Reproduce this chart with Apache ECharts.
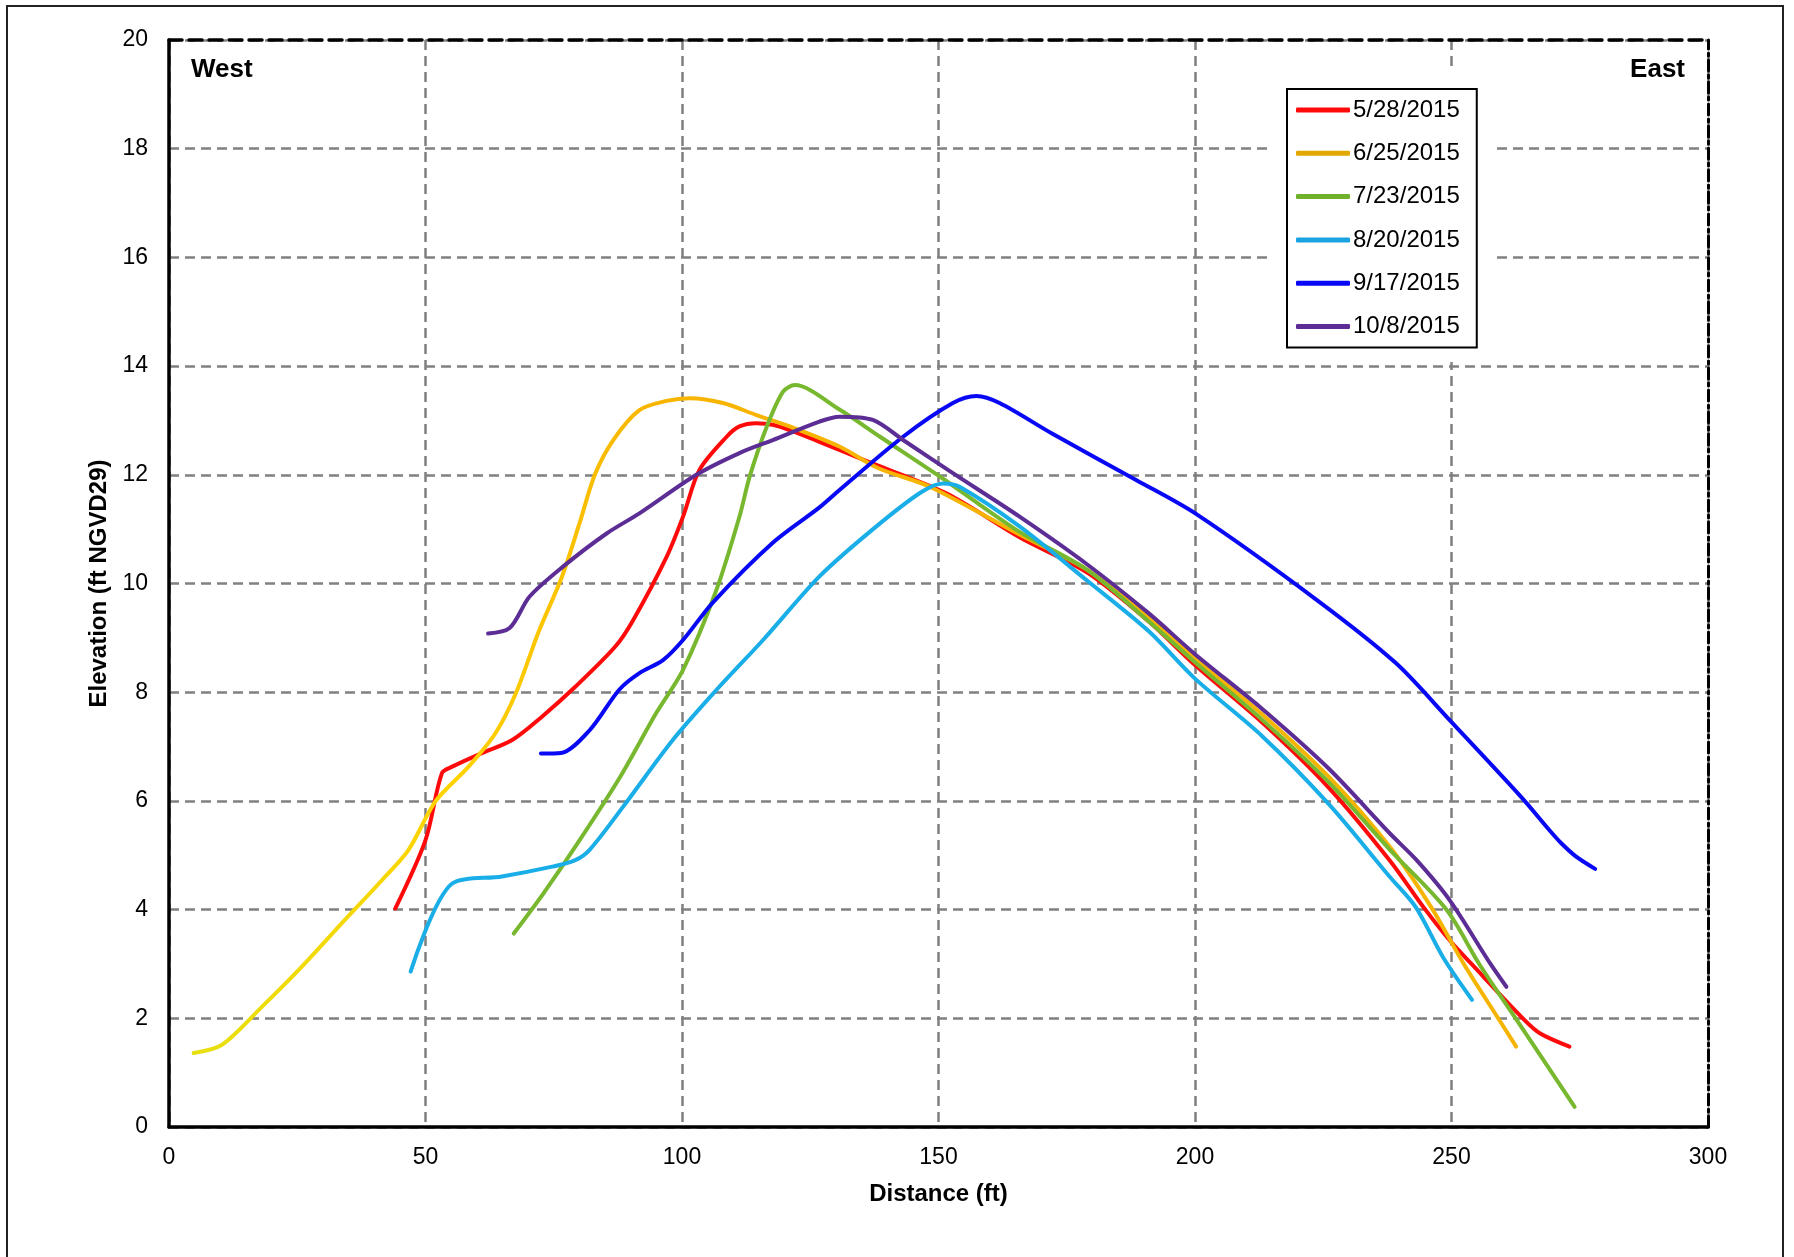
<!DOCTYPE html>
<html>
<head>
<meta charset="utf-8">
<script src="https://cdn.jsdelivr.net/npm/echarts@6/dist/echarts.min.js"></script>
<style>
html,body{margin:0;padding:0;background:#fff;}
#chart{width:1794px;height:1257px;}
</style>
</head>
<body>
<div id="chart"></div>
<script>
// ---- data ----
const seriesNames = ['5/28/2015','6/25/2015','7/23/2015','8/20/2015','9/17/2015','10/8/2015'];
const xTicks = [0, 50, 100, 150, 200, 250, 300];
const yTicks = [0, 2, 4, 6, 8, 10, 12, 14, 16, 18, 20];

const distRed = [44.1, 50.0, 53.2, 55.2, 61.0, 66.9, 72.7, 79.2, 87.0, 90.5, 97.0, 100.2, 103.4, 108.7, 111.2, 114.5, 117.7, 121.0, 127.5, 136, 151.5, 165.8, 179, 191, 200, 213, 226, 238, 244.5, 249.6, 253.9, 263.9, 267.3, 273.0];
const elevRed = [4.02, 5.28, 6.51, 6.63, 6.88, 7.12, 7.55, 8.10, 8.84, 9.33, 10.49, 11.23, 12.09, 12.70, 12.89, 12.95, 12.92, 12.82, 12.58, 12.25, 11.66, 10.85, 10.2, 9.3, 8.5, 7.45, 6.25, 4.9, 4.05, 3.44, 3.0, 2.0, 1.72, 1.48];

const distYellow = [4.8, 10.3, 18.1, 25.9, 33.7, 41.5, 46.7, 52.0, 58.4, 63.6, 67.7, 72, 76.5, 80, 83, 86.6, 91.7, 97, 101.5, 108.0, 114.5, 121.0, 130.7, 138.3, 148.3, 165.8, 179, 191, 200, 213, 226, 238, 246, 252.4, 259.1, 262.6];
const elevYellow = [1.36, 1.51, 2.21, 2.95, 3.75, 4.54, 5.10, 6.0, 6.63, 7.24, 8.0, 9.1, 10.1, 11.1, 12.0, 12.64, 13.19, 13.36, 13.41, 13.32, 13.10, 12.89, 12.52, 12.12, 11.78, 10.9, 10.25, 9.38, 8.62, 7.6, 6.45, 5.15, 4.05, 3.0, 2.0, 1.48];

const distGreen = [67.2, 73, 79.5, 88, 95.0, 100.2, 106.7, 111.2, 113.2, 116.5, 119.7, 122.0, 130.7, 138.6, 151.3, 165.8, 179, 191, 200, 213, 226, 238, 249.0, 255.4, 262.5, 274];
const elevGreen = [3.56, 4.3, 5.2, 6.45, 7.62, 8.41, 9.88, 11.23, 11.97, 12.88, 13.53, 13.65, 13.2, 12.70, 11.90, 10.95, 10.25, 9.3, 8.55, 7.5, 6.35, 5.1, 4.0, 3.0, 2.0, 0.37];

const distCyan = [47.1, 55.2, 64.9, 74.7, 79.2, 82.0, 88.5, 98.2, 106.7, 115.8, 126.8, 136.6, 146.3, 150.9, 154.1, 165.8, 179, 191, 200, 213, 226, 238, 243, 248.5, 254.0];
const elevCyan = [2.86, 4.48, 4.61, 4.79, 4.91, 5.10, 5.89, 7.12, 8.04, 8.96, 10.13, 10.95, 11.66, 11.84, 11.78, 11.05, 10.05, 9.12, 8.25, 7.2, 5.95, 4.6, 4.05, 3.1, 2.34];

const distBlue = [72.5, 76.4, 82.0, 87.8, 91.7, 96.3, 100.2, 106.0, 117.7, 126.8, 130.7, 143.1, 152.8, 157.4, 161.9, 172.3, 188.6, 200.2, 223.7, 239.1, 249.6, 263.6, 269.1, 271.3, 274.1, 278];
const elevBlue = [6.87, 6.88, 7.30, 8.05, 8.35, 8.59, 8.96, 9.65, 10.75, 11.4, 11.72, 12.70, 13.32, 13.45, 13.32, 12.75, 11.90, 11.28, 9.70, 8.54, 7.49, 6.07, 5.46, 5.23, 4.99, 4.75];

const distPurple = [62.2, 66.4, 70.3, 76.8, 85.3, 91.7, 102.8, 111.2, 117.7, 126.8, 130.7, 137.2, 143.1, 152.8, 165.8, 179, 191, 200, 213, 226, 238, 243.2, 249.6, 257.6, 260.7];
const elevPurple = [9.08, 9.18, 9.76, 10.31, 10.92, 11.29, 12.0, 12.40, 12.64, 12.98, 13.07, 13.01, 12.64, 12.03, 11.23, 10.35, 9.45, 8.7, 7.7, 6.6, 5.4, 4.91, 4.18, 3.0, 2.58];

const dists = [distRed, distYellow, distGreen, distCyan, distBlue, distPurple];
const elevs = [elevRed, elevYellow, elevGreen, elevCyan, elevBlue, elevPurple];

// ---- styles ----
const yellowGrad = new echarts.graphic.LinearGradient(0, 0, 1, 0, [
  {offset: 0, color: '#e6e010'},
  {offset: 0.2, color: '#ffd200'},
  {offset: 0.35, color: '#f7b400'},
  {offset: 1, color: '#f5b400'}
]);
const lineColors = ['#ff0a0a', yellowGrad, '#77b82f', '#19aee8', '#0808f5', '#5c2d95'];
const legendColors = ['#ff0a0a', '#e2a800', '#6fb12a', '#1aa2e2', '#0808f5', '#5c2d95'];
const FONT = "'Liberation Sans', Arial, sans-serif";
const gridDash = {color: '#808080', width: 2.5, type: [10, 6]};

const chart = echarts.init(document.getElementById('chart'), null, {renderer: 'canvas'});

const series = seriesNames.map((name, i) => ({
  name: name,
  type: 'line',
  data: dists[i].map((x, k) => [x, elevs[i][k]]),
  smooth: 0.3,
  showSymbol: false,
  symbol: 'none',
  xAxisIndex: 0,
  yAxisIndex: 0,
  lineStyle: {color: lineColors[i], width: 4, cap: 'round', join: 'round'},
  itemStyle: {color: legendColors[i]},
  z: 3 + i,
  animation: false
}));

const option = {
  animation: false,
  backgroundColor: '#fff',
  grid: {left: 169, right: 86, top: 40, bottom: 130, containLabel: false},
  xAxis: [{
    type: 'value',
    min: xTicks[0], max: xTicks[xTicks.length - 1], interval: xTicks[1] - xTicks[0],
    position: 'bottom',
    name: 'Distance (ft)',
    nameLocation: 'middle',
    nameGap: 55,
    nameTextStyle: {fontFamily: FONT, fontSize: 24, fontWeight: 'bold', color: '#000'},
    axisLine: {show: true, onZero: false, lineStyle: {color: '#000', width: 3.5}},
    axisTick: {show: false},
    axisLabel: {margin: 19, fontFamily: FONT, fontSize: 23, color: '#000'},
    splitLine: {show: true, lineStyle: gridDash}
  }, {
    type: 'value',
    min: xTicks[0], max: xTicks[xTicks.length - 1], interval: xTicks[1] - xTicks[0],
    position: 'top',
    axisLine: {show: true, onZero: false, lineStyle: {color: '#000', width: 3.5, type: [13, 7]}},
    axisTick: {show: false},
    axisLabel: {show: false},
    splitLine: {show: false}
  }],
  yAxis: [{
    type: 'value',
    min: yTicks[0], max: yTicks[yTicks.length - 1], interval: yTicks[1] - yTicks[0],
    position: 'left',
    name: 'Elevation (ft NGVD29)',
    nameLocation: 'middle',
    nameGap: 56,
    nameRotate: 90,
    nameTextStyle: {fontFamily: FONT, fontSize: 24, fontWeight: 'bold', color: '#000'},
    axisLine: {show: true, onZero: false, lineStyle: {color: '#000', width: 3.5}},
    axisTick: {show: false},
    axisLabel: {margin: 21, fontFamily: FONT, fontSize: 23, color: '#000'},
    splitLine: {show: true, lineStyle: gridDash}
  }, {
    type: 'value',
    min: yTicks[0], max: yTicks[yTicks.length - 1], interval: yTicks[1] - yTicks[0],
    position: 'right',
    axisLine: {show: true, onZero: false, lineStyle: {color: '#000', width: 3, type: [11, 4, 3, 4]}},
    axisTick: {show: false},
    axisLabel: {show: false},
    splitLine: {show: false}
  }],
  legend: {
    show: true,
    orient: 'vertical',
    left: 1287,
    top: 89,
    padding: [9, 17, 9, 9],
    itemGap: 19.3,
    itemWidth: 54,
    itemHeight: 5,
    icon: 'roundRect',
    backgroundColor: '#fff',
    borderColor: '#000',
    borderWidth: 2,
    borderRadius: 0,
    textStyle: {fontFamily: FONT, fontSize: 24, color: '#000', padding: [0, 0, 0, -2]},
    data: seriesNames.map((n, i) => ({name: n, itemStyle: {color: legendColors[i]}})),
    selectedMode: false,
    z: 10
  },
  graphic: [
    {type: 'rect', z: 1, silent: true, shape: {x: 7, y: 6, width: 1776, height: 1300},
     style: {fill: 'none', stroke: '#222', lineWidth: 2}},
    {type: 'rect', z: 1, silent: true, shape: {x: 1268, y: 72, width: 229, height: 290},
     style: {fill: '#fff', stroke: 'none'}},
    {type: 'text', z: 5, left: 191, top: 57,
     style: {text: 'West', font: "bold 26px 'Liberation Sans', Arial, sans-serif", fill: '#000'}},
    {type: 'text', z: 5, right: 109, top: 57,
     style: {text: 'East', font: "bold 26px 'Liberation Sans', Arial, sans-serif", fill: '#000'}}
  ],
  series: series
};
chart.setOption(option);
</script>
</body>
</html>
